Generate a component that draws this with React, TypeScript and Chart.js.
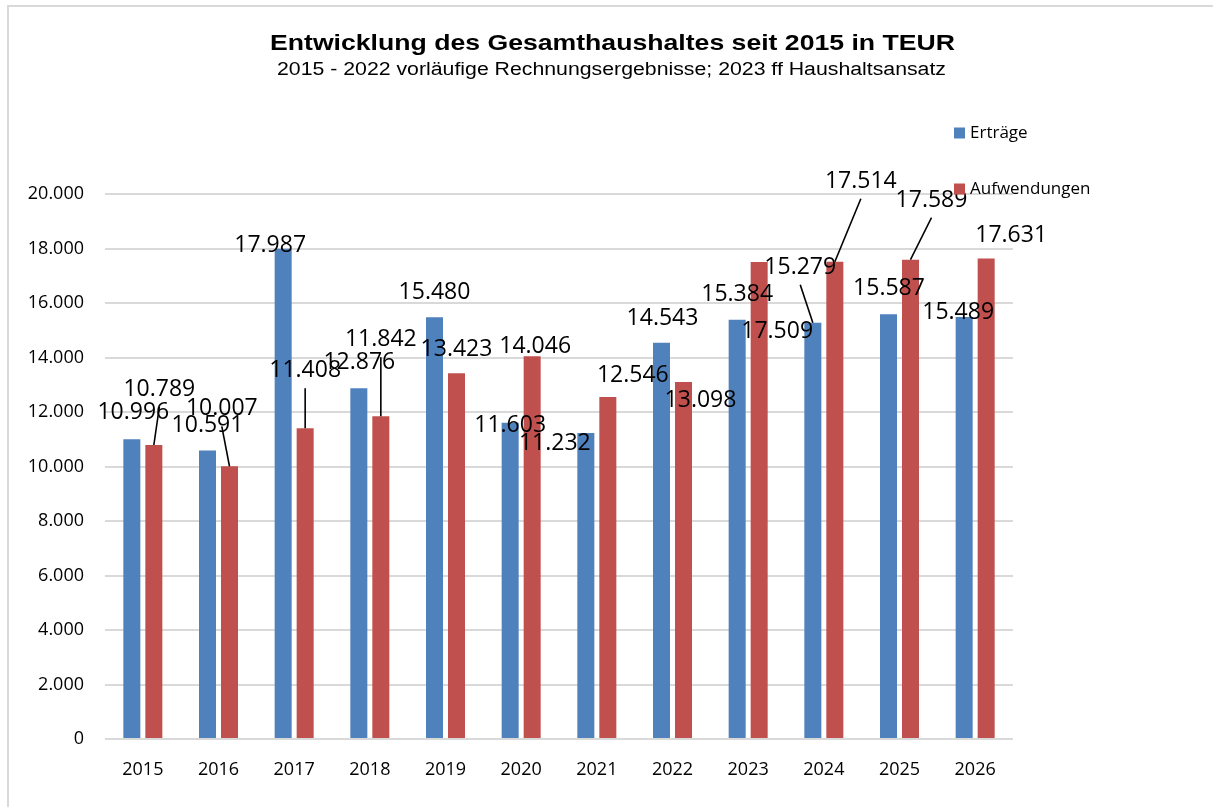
import React, { useEffect, useRef } from "react";
import { Chart, registerables } from "chart.js";

Chart.register(...registerables);

const categories = ["2015", "2016", "2017", "2018", "2019", "2020", "2021", "2022", "2023", "2024", "2025", "2026"];
const ertraege = [10996, 10591, 17987, 12876, 15480, 11603, 11232, 14543, 15384, 15279, 15587, 15489];
const aufwendungen = [10789, 10007, 11408, 11842, 13423, 14046, 12546, 13098, 17509, 17514, 17589, 17631];

const titleText = "Entwicklung des Gesamthaushaltes seit 2015 in TEUR";
const subtitleText = "2015 - 2022 vorläufige Rechnungsergebnisse; 2023 ff Haushaltsansatz";
const seriesNames = ["Erträge", "Aufwendungen"];
const seriesColors = ["#4F81BD", "#C0504D"];

// label placement (offset from bar top centre, in px) as in the reference
const ertraegeLabelOffsets: [number, number][] = [
  [1.5, -28], [0, -26], [-13, -5], [0.5, -27], [0, -26], [0, 1],
  [-31, 9], [1, -26], [0, -26.5], [-12.6, -57], [0.5, -27], [-6, -6],
];
const aufwendungenLabelOffsets: [number, number][] = [
  [5.5, -57], [-7.7, -59], [0, -59], [0, -78], [0, -25], [3, -11],
  [25, -23], [17, 17], [18, 68], [26, -82], [21, -61], [25, -25],
];
const ertraegeLeaders = [false, false, false, false, false, false, false, false, false, true, false, false];
const aufwendungenLeaders = [true, true, true, true, false, false, false, false, false, true, true, false];

const fmt = (v: number) => String(Math.round(v)).replace(/\B(?=(\d{3})+(?!\d))/g, ".");

const labelsPlugin = {
  id: "excelLabels",
  afterDatasetsDraw(chart: any) {
    const ctx = chart.ctx;
    const offsets = [ertraegeLabelOffsets, aufwendungenLabelOffsets];
    const leaders = [ertraegeLeaders, aufwendungenLeaders];
    ctx.save();
    ctx.font = '23px "Open Sans"';
    ctx.textAlign = "center";
    ctx.textBaseline = "alphabetic";
    chart.data.datasets.forEach((ds: any, di: number) => {
      const meta = chart.getDatasetMeta(di);
      meta.data.forEach((el: any, j: number) => {
        const [dx, dy] = offsets[di][j];
        const cx = el.x + dx;
        const cy = el.y + dy;
        if (leaders[di][j]) {
          ctx.strokeStyle = "#000";
          ctx.lineWidth = 1.6;
          ctx.beginPath();
          ctx.moveTo(cx, cy + 19);
          ctx.lineTo(el.x, el.y);
          ctx.stroke();
        }
        ctx.fillStyle = "#000";
        ctx.fillText(fmt(ds.data[j]), cx, cy + 8);
      });
    });
    ctx.restore();
  },
};

const drawStretched = (ctx: any, text: string, font: string, cx: number, cy: number, targetWidth: number) => {
  ctx.save();
  ctx.font = font;
  const w = ctx.measureText(text).width;
  const sx = targetWidth / w;
  ctx.translate(cx, cy);
  ctx.scale(sx, 1);
  ctx.textAlign = "center";
  ctx.textBaseline = "middle";
  ctx.fillText(text, 0, 0);
  ctx.restore();
};

const decorPlugin = {
  id: "excelDecor",
  afterDraw(chart: any) {
    const ctx = chart.ctx;
    ctx.save();
    ctx.fillStyle = "#000";
    drawStretched(ctx, titleText, 'bold 22px "Liberation Sans"', 612.5, 44, 685);
    drawStretched(ctx, subtitleText, '18px "Liberation Sans"', 611.5, 70, 669);
    // legend
    const legendY = [133, 189];
    ctx.textAlign = "left";
    ctx.textBaseline = "middle";
    ctx.font = '17px "Open Sans"';
    seriesNames.forEach((name, i) => {
      ctx.fillStyle = seriesColors[i];
      ctx.fillRect(954, legendY[i] - 5.5, 11, 11);
      ctx.fillStyle = "#000";
      ctx.fillText(name, 970, legendY[i]);
    });
    ctx.restore();
  },
};

export default function App() {
  const ref = useRef<HTMLCanvasElement | null>(null);
  useEffect(() => {
    if (!ref.current) return;
    const chart = new Chart(ref.current, {
      type: "bar",
      data: {
        labels: categories,
        datasets: [
          { label: seriesNames[0], data: ertraege, backgroundColor: seriesColors[0] },
          { label: seriesNames[1], data: aufwendungen, backgroundColor: seriesColors[1] },
        ],
      },
      options: {
        responsive: false,
        animation: false,
        devicePixelRatio: 1,
        datasets: { bar: { categoryPercentage: 0.5815, barPercentage: 0.773 } },
        layout: { padding: { top: 194, left: 0, right: 200, bottom: 28 } },
        plugins: { legend: { display: false }, title: { display: false }, tooltip: { enabled: false } },
        scales: {
          x: {
            grid: { display: false },
            border: { display: false },
            ticks: { color: "#000", font: { family: "Open Sans", size: 18 }, padding: 12 },
            afterFit: (s: any) => { s.height = 40; },
          },
          y: {
            min: 0,
            max: 20000,
            grid: { color: "#D9D9D9", lineWidth: 2, drawTicks: false },
            border: { display: false },
            ticks: {
              stepSize: 2000,
              color: "#000",
              font: { family: "Open Sans", size: 18 },
              padding: 21,
              callback: (v: any) => fmt(Number(v)),
            },
            afterFit: (s: any) => { s.width = 105; },
          },
        },
      },
      plugins: [labelsPlugin, decorPlugin],
    });
    return () => chart.destroy();
  }, []);
  return (
    <div style={{ position: "absolute", left: 0, top: 0, width: 1213, height: 807, background: "#fff" }}>
      <div style={{ position: "absolute", left: 7, top: 5, right: 0, bottom: 0, borderTop: "2px solid #D9D9D9", borderLeft: "2px solid #D9D9D9" }} />
      <canvas ref={ref} width={1213} height={807} style={{ position: "absolute", left: 0, top: 0 }} />
    </div>
  );
}
